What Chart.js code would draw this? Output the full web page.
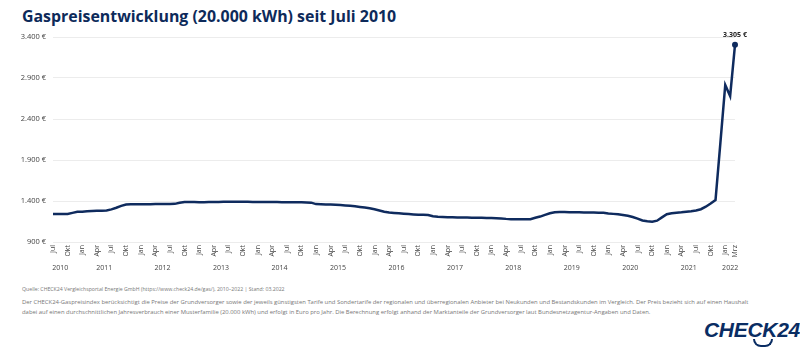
<!DOCTYPE html>
<html lang="de">
<head>
<meta charset="utf-8">
<script src="https://cdn.jsdelivr.net/npm/chart.js@4.4.1/dist/chart.umd.min.js"></script>
<style>
  html, body { margin: 0; padding: 0; background: #fff; }
  body { width: 800px; height: 350px; position: relative; overflow: hidden; font-family: "Open Sans", sans-serif; }
  #titel { position: absolute; left: 22px; top: 5px; font-size: 15.9px; font-weight: 700; color: #0d2a5a; white-space: nowrap; }
  #box { position: absolute; left: 0; top: 20px; width: 800px; height: 256px; }
  .fuss { position: absolute; left: 22px; color: #777; line-height: 10px; white-space: nowrap; }
  #quelle { top: 284px; font-size: 5.2px; }
  #info { top: 297px; font-size: 5.9px; }
  #logo { position: absolute; left: 704px; top: 318px; font-family: "Liberation Sans", sans-serif; font-weight: 700; font-style: italic; font-size: 21px; color: #0a2d63; letter-spacing: -0.3px; }
  #smile { position: absolute; left: 753px; top: 339px; width: 16px; height: 6px; border: 2px solid #0a2d63; border-top: none; border-radius: 0 0 10px 10px; }
</style>
</head>
<body>
<div id="titel">Gaspreisentwicklung (20.000 kWh) seit Juli 2010</div>
<div id="box"><canvas id="grafik"></canvas></div>
<div class="fuss" id="quelle">Quelle: CHECK24 Vergleichsportal Energie GmbH (https://www.check24.de/gas/), 2010–2022 | Stand: 03.2022</div>
<div class="fuss" id="info">Der CHECK24-Gaspreisindex berücksichtigt die Preise der Grundversorger sowie der jeweils günstigsten Tarife und Sondertarife der regionalen und überregionalen Anbieter bei Neukunden und Bestandskunden im Vergleich. Der Preis bezieht sich auf einen Haushalt<br>dabei auf einen durchschnittlichen Jahresverbrauch einer Musterfamilie (20.000 kWh) und erfolgt in Euro pro Jahr. Die Berechnung erfolgt anhand der Marktanteile der Grundversorger laut Bundesnetzagentur-Angaben und Daten.</div>
<div id="logo">CHECK24</div>
<div id="smile"></div>

<script>
// Monatsnamen (Achse)
const monate = ["Jan", "Feb", "Mrz", "Apr", "Mai", "Jun", "Jul", "Aug", "Sep", "Okt", "Nov", "Dez"];
const startJahr = 2010;
const startMonat = 6; // Juli

// Gaspreise in Euro pro Jahr, monatlich
const gas2010 = [1240, 1240, 1240, 1242, 1255, 1268]; // Jul - Dez
const gas2011 = [1270, 1275, 1278, 1280, 1282, 1285, 1298, 1318, 1340, 1358, 1360, 1360];
const gas2012 = [1360, 1360, 1360, 1362, 1362, 1363, 1364, 1365, 1378, 1388, 1388, 1388];
const gas2013 = [1386, 1386, 1387, 1388, 1389, 1390, 1390, 1390, 1390, 1390, 1390, 1389];
const gas2014 = [1389, 1388, 1388, 1387, 1387, 1386, 1386, 1385, 1385, 1384, 1383, 1380];
const gas2015 = [1362, 1360, 1358, 1356, 1353, 1350, 1346, 1342, 1336, 1328, 1320, 1312];
const gas2016 = [1300, 1285, 1270, 1260, 1255, 1250, 1245, 1240, 1236, 1233, 1231, 1230];
const gas2017 = [1215, 1208, 1205, 1203, 1201, 1200, 1199, 1198, 1197, 1196, 1195, 1194];
const gas2018 = [1192, 1190, 1188, 1182, 1178, 1177, 1177, 1177, 1177, 1195, 1210, 1230];
const gas2019 = [1250, 1262, 1266, 1265, 1264, 1263, 1262, 1261, 1260, 1259, 1258, 1256];
const gas2020 = [1248, 1243, 1238, 1230, 1220, 1205, 1185, 1162, 1152, 1148, 1160, 1200];
const gas2021 = [1238, 1250, 1258, 1262, 1268, 1275, 1285, 1300, 1330, 1370, 1412, 2110];
const gas2022 = [2815, 2680, 3305]; // Jan - Mrz

// Y-Achse
const yMin = 900;
const yMax = 3400;
const yStep = 500;

const preise = [].concat(gas2010, gas2011, gas2012, gas2013, gas2014, gas2015,
  gas2016, gas2017, gas2018, gas2019, gas2020, gas2021, gas2022);

// Monat und Jahr für jeden Punkt
const monatVon = [];
const jahrVon = [];
const labels = [];
preise.forEach((p, i) => {
  const m = (startMonat + i) % 12;
  const j = startJahr + Math.floor((startMonat + i) / 12);
  monatVon.push(m);
  jahrVon.push(j);
  labels.push(monate[m] + " " + j);
});
const letzter = preise.length - 1;

// Tausenderpunkt
function euro(v) {
  return String(Math.round(v)).replace(/\B(?=(\d{3})+(?!\d))/g, ".") + " €";
}

// sichtbare Ticks: Quartale + letzter Monat
function zeigeTick(i) {
  return monatVon[i] % 3 === 0 || i === letzter;
}

const navy = "#0f2b5e";

// Jahreszahlen unter den Monaten
const jahrPlugin = {
  id: "jahre",
  afterDraw(chart) {
    const x = chart.scales.x;
    const ctx = chart.ctx;
    const gruppen = {};
    x.ticks.forEach(t => {
      const j = jahrVon[t.value];
      const px = x.getPixelForValue(t.value);
      if (!gruppen[j]) gruppen[j] = [px, px];
      gruppen[j][1] = px;
    });
    ctx.save();
    ctx.font = "7px 'Open Sans'";
    ctx.fillStyle = "#444";
    ctx.textAlign = "center";
    ctx.textBaseline = "middle";
    Object.keys(gruppen).forEach(j => {
      const g = gruppen[j];
      ctx.fillText(j, (g[0] + g[1]) / 2, chart.chartArea.bottom + 26);
    });
    ctx.restore();
  }
};

// Wert am letzten Punkt
const wertPlugin = {
  id: "wert",
  afterDatasetsDraw(chart) {
    const pt = chart.getDatasetMeta(0).data[letzter];
    const ctx = chart.ctx;
    ctx.save();
    ctx.font = "bold 7px 'Open Sans'";
    ctx.fillStyle = "#222";
    ctx.textAlign = "center";
    ctx.textBaseline = "bottom";
    ctx.fillText(euro(preise[letzter]), pt.x, pt.y - 6);
    ctx.restore();
  }
};

new Chart(document.getElementById("grafik"), {
  type: "line",
  data: {
    labels: labels,
    datasets: [{
      data: preise,
      borderColor: navy,
      backgroundColor: navy,
      borderWidth: 2.5,
      tension: 0,
      pointRadius: c => c.dataIndex === letzter ? 3 : 0,
      pointBorderWidth: 0
    }]
  },
  options: {
    responsive: true,
    maintainAspectRatio: false,
    animation: false,
    layout: { padding: { top: 17, right: 65, left: 0, bottom: 0 } },
    plugins: {
      legend: { display: false },
      tooltip: { enabled: false }
    },
    scales: {
      x: {
        type: "category",
        offset: false,
        grid: { display: false, drawTicks: false },
        border: { display: false },
        afterBuildTicks: s => { s.ticks = s.ticks.filter(t => zeigeTick(t.value)); },
        afterFit: s => { s.height = 34; },
        ticks: {
          autoSkip: false,
          minRotation: 90,
          maxRotation: 90,
          padding: 3,
          color: "#444",
          font: { family: "Open Sans", size: 7 },
          callback: function (v) { return monate[monatVon[v]]; }
        }
      },
      y: {
        min: yMin,
        max: yMax,
        grid: { color: "#ececec", drawTicks: false },
        border: { display: false },
        afterFit: s => { s.width = 53; },
        ticks: {
          stepSize: yStep,
          padding: 7,
          color: "#444",
          font: { family: "Open Sans", size: 7.5 },
          callback: v => euro(v)
        }
      }
    }
  },
  plugins: [jahrPlugin, wertPlugin]
});
</script>
</body>
</html>
